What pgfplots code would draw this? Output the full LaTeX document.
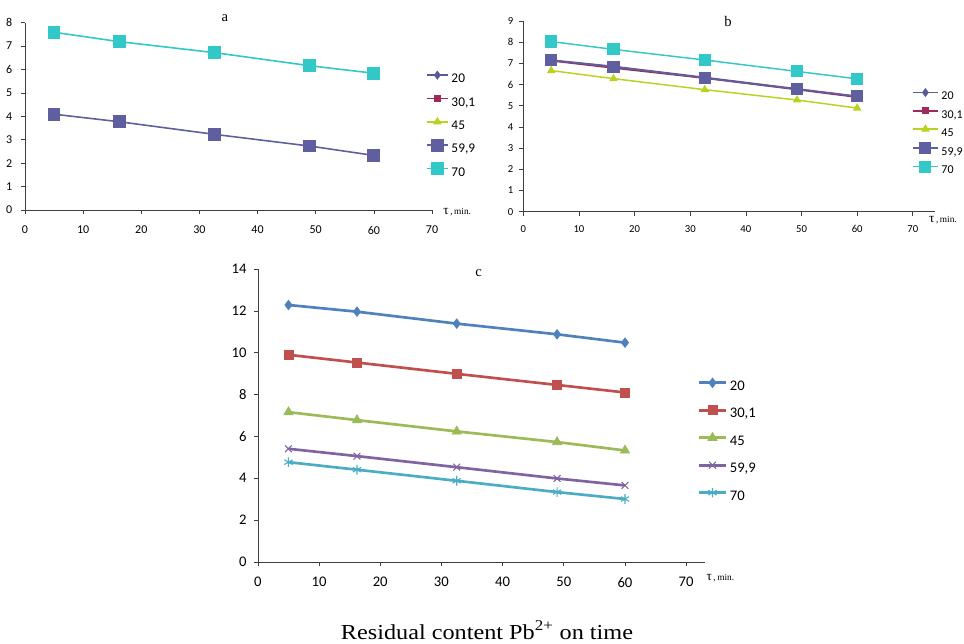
\documentclass[border=0pt]{standalone}
\usepackage{fontspec}
\setmainfont{Liberation Serif}
\newfontfamily\calib{Carlito}
\usepackage{pgfplots}
\pgfplotsset{compat=1.18}

\definecolor{aBlue}{RGB}{90,90,150}
\definecolor{aRed}{RGB}{160,40,90}
\definecolor{aYel}{RGB}{185,210,30}
\definecolor{aSlate}{RGB}{95,95,160}
\definecolor{aCyan}{RGB}{50,200,200}
\definecolor{cBlue}{HTML}{4F81BD}
\definecolor{cRed}{HTML}{C0504D}
\definecolor{cGreen}{HTML}{9BBB59}
\definecolor{cPurple}{HTML}{8064A2}
\definecolor{cCyan}{HTML}{4BACC6}

\pgfplotsset{
  excel/.style={
    scale only axis, anchor=south west,
    axis lines*=left, tick align=outside,
    axis line style={black!75, line width=0.5pt},
    major tick style={black!75, line width=0.5pt},
    major tick length=3pt,
    xmin=0, ymin=0, xtick={0,10,...,70},
    /pgf/number format/assume math mode=true,
    clip=false,
    legend cell align=left,
    legend style={draw=none, fill=none, inner sep=0pt, outer sep=0pt, anchor=north west},
  },
}
\tikzset{tau/.style={font=\fontsize{7}{8}\selectfont}}
\newcommand{\taulabel}{{\fontsize{10}{10}\selectfont τ}\,,\,min.}

\begin{document}
\begin{tikzpicture}
\useasboundingbox (0,0) rectangle (723pt,482.25pt);

% ---------- a ----------
\begin{axis}[excel, at={(18.75pt,324.75pt)}, width=305.25pt, height=140.5pt,
  xmax=70, ymax=8, ytick={0,...,8},
  ticklabel style={font=\calib\fontsize{9}{10}\selectfont},
  xticklabel style={yshift=-5.5pt}, yticklabel style={xshift=-3pt},
  legend style={font=\calib\fontsize{10}{11}\selectfont, at={(0.985,0.75)}, row sep=3pt,
    nodes={text height=8pt, text depth=2.5pt}},
  legend image code/.code={\draw[yshift=0.3em,mark repeat=2,mark phase=2,#1] plot coordinates {(0pt,0pt)(8pt,0pt)(16pt,0pt)};},
]
\addlegendimage{aBlue, line width=1.2pt, mark=diamond*, mark size=2.5pt, mark options={fill=aBlue}}
\addlegendimage{aRed, line width=1.2pt, mark=square*, mark size=2.2pt, mark options={fill=aRed}}
\addlegendimage{aYel, line width=1.2pt, mark=triangle*, mark size=2.6pt, mark options={fill=aYel}}
\addplot[aSlate, line width=1.2pt, mark=square*, mark size=4.2pt, mark options={fill=aSlate}]
  coordinates {(5,4.09)(16.2,3.77)(32.6,3.23)(49,2.73)(60,2.33)};
\addplot[aCyan, line width=1.2pt, mark=square*, mark size=4.2pt, mark options={fill=aCyan}]
  coordinates {(5,7.59)(16.2,7.19)(32.6,6.72)(49,6.16)(60,5.84)};
\legend{20,{30,1},45,{59,9},70}
\node[font=\fontsize{11}{12}\selectfont] at (rel axis cs:0.491,1.025) {a};
\node[tau, anchor=west] at (rel axis cs:1,0) [xshift=5pt, yshift=-1.5pt] {\taulabel};
\end{axis}

% ---------- b ----------
\begin{axis}[excel, at={(392.5pt,323.5pt)}, width=308.8pt, height=143pt,
  xmax=74, ymax=9, ytick={0,...,9},
  ticklabel style={font=\calib\fontsize{8}{9}\selectfont},
  xticklabel style={yshift=-4pt}, yticklabel style={xshift=-1pt},
  legend style={font=\calib\fontsize{9}{10}\selectfont, at={(0.944,0.65)}, row sep=0.5pt,
    nodes={text height=7pt, text depth=2.2pt}},
  legend image code/.code={\draw[yshift=0.3em,mark repeat=2,mark phase=2,#1] plot coordinates {(0pt,0pt)(9.5pt,0pt)(19pt,0pt)};},
]
\addplot[aBlue, line width=1.1pt, mark=diamond*, mark size=2.5pt, mark options={fill=aBlue}]
  coordinates {(5,7.16)(16.2,6.86)(32.6,6.34)(49.2,5.80)(60,5.45)};
\addplot[aRed, line width=1.1pt, mark=square*, mark size=2.2pt, mark options={fill=aRed}]
  coordinates {(5,7.12)(16.2,6.78)(32.6,6.30)(49.2,5.76)(60,5.40)};
\addplot[aYel, line width=1.1pt, mark=triangle*, mark size=2.6pt, mark options={fill=aYel}]
  coordinates {(5,6.66)(16.2,6.28)(32.6,5.76)(49.2,5.27)(60,4.89)};
\addplot[aSlate, line width=1.1pt, mark=square*, mark size=4pt, mark options={fill=aSlate}]
  coordinates {(5,7.14)(16.2,6.84)(32.6,6.31)(49.2,5.78)(60,5.44)};
\addplot[aCyan, line width=1.1pt, mark=square*, mark size=4pt, mark options={fill=aCyan}]
  coordinates {(5,8.03)(16.2,7.66)(32.6,7.16)(49.2,6.62)(60,6.27)};
\legend{20,{30,1},45,{59,9},70}
\node[font=\fontsize{11}{12}\selectfont] at (rel axis cs:0.497,0.996) {b};
\node[tau, anchor=west] at (rel axis cs:1,0) [xshift=-8pt, yshift=-6pt] {\taulabel};
\end{axis}

% ---------- c ----------
\begin{axis}[excel, at={(193.4pt,60.75pt)}, width=335pt, height=219.75pt,
  xmax=73, ymax=14, ytick={0,2,...,14},
  ticklabel style={font=\calib\fontsize{11}{12}\selectfont},
  xticklabel style={yshift=-5pt}, yticklabel style={xshift=-2pt},
  legend style={font=\calib\fontsize{11}{12}\selectfont, at={(0.985,0.632)}, row sep=5.6pt,
    nodes={text height=8pt, text depth=3pt}},
  legend image code/.code={\draw[yshift=0.3em,mark repeat=2,mark phase=2,#1] plot coordinates {(0pt,0pt)(10pt,0pt)(20pt,0pt)};},
]
\addplot[cBlue, line width=2pt, mark=diamond*, mark size=3.6pt, mark options={fill=cBlue, line width=0.5pt}]
  coordinates {(5,12.28)(16.2,11.96)(32.5,11.39)(48.9,10.88)(60,10.48)};
\addplot[cRed, line width=2pt, mark=square*, mark size=3.4pt, mark options={fill=cRed, line width=0.5pt}]
  coordinates {(5,9.90)(16.2,9.53)(32.5,8.99)(48.9,8.46)(60,8.10)};
\addplot[cGreen, line width=2pt, mark=triangle*, mark size=4pt, mark options={fill=cGreen, line width=0.5pt}]
  coordinates {(5,7.16)(16.2,6.78)(32.5,6.24)(48.9,5.73)(60,5.33)};
\addplot[cPurple, line width=2pt, mark=x, mark size=3.6pt, mark options={line width=0.8pt}]
  coordinates {(5,5.41)(16.2,5.06)(32.5,4.53)(48.9,3.99)(60,3.66)};
\addplot[cCyan, line width=2pt, mark=asterisk, mark size=3.6pt, mark options={line width=0.8pt}]
  coordinates {(5,4.77)(16.2,4.41)(32.5,3.88)(48.9,3.34)(60,3.01)};
\legend{20,{30,1},45,{59,9},70}
\node[font=\fontsize{11}{12}\selectfont] at (rel axis cs:0.494,0.986) {c};
\node[tau, anchor=west] at (rel axis cs:1,0) [xshift=-2pt, yshift=-12pt] {\taulabel};
\end{axis}

\node[anchor=base, font=\fontsize{16}{18}\selectfont] at (365.25pt,3pt) {\scalebox{1.136}[1]{Residual content Pb\textsuperscript{2+} on time}};
\end{tikzpicture}
\end{document}
